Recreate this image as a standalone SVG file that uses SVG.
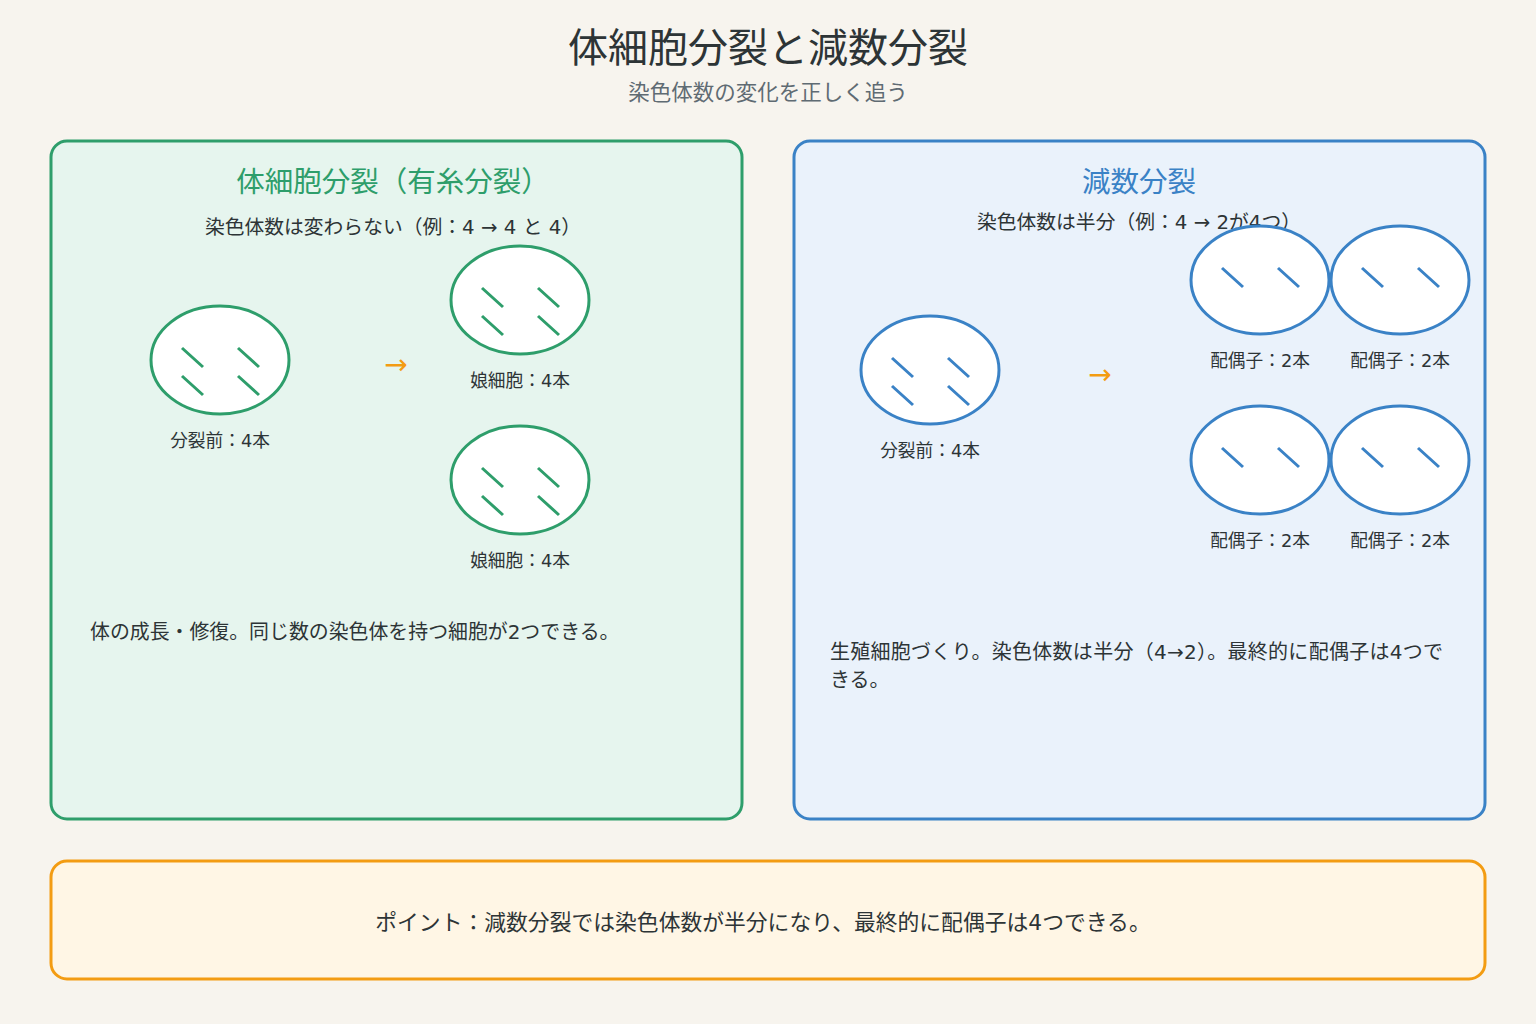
<svg xmlns="http://www.w3.org/2000/svg" width="1536" height="1024" viewBox="0 0 1536 1024">
<style>
text{font-family:"DejaVu Sans","Noto Sans CJK JP",sans-serif;fill:#2d3436}
.g{fill:#fff;stroke:#2e9e6b;stroke-width:3}
.b{fill:#fff;stroke:#3a82c6;stroke-width:3}
.gl{stroke:#2e9e6b;stroke-width:3}
.bl{stroke:#3a82c6;stroke-width:3}
.lab{font-size:17.7px;text-anchor:middle}
.ar{font-size:28px;fill:#f39c12;text-anchor:middle}
</style>
<defs>
<g id="c4"><ellipse class="g" rx="69" ry="54"/><path class="gl" d="M-38-12l21 19M18-12l21 19M-38 16l21 19M18 16l21 19"/></g>
<g id="c4b"><ellipse class="b" rx="69" ry="54"/><path class="bl" d="M-38-12l21 19M18-12l21 19M-38 16l21 19M18 16l21 19"/></g>
<g id="c2"><ellipse class="b" rx="69" ry="54"/><path class="bl" d="M-38-12l21 19M18-12l21 19"/></g>
</defs>
<rect width="1536" height="1024" fill="#f7f4ee"/>
<text x="768" y="62" font-size="40" text-anchor="middle">体細胞分裂と減数分裂</text>
<text x="768" y="100" font-size="21.5" text-anchor="middle" style="fill:#5f6b73">染色体数の変化を正しく追う</text>
<g id="mitosis">
<rect x="51" y="141" width="691" height="678" rx="16" fill="#e6f5ee" stroke="#2e9e6b" stroke-width="3"/>
<text x="393" y="192" font-size="28.5" text-anchor="middle" style="fill:#2e9e6b">体細胞分裂（有糸分裂）</text>
<text x="393" y="234" font-size="19.8" text-anchor="middle">染色体数は変わらない（例：4 → 4 と 4）</text>
<use href="#c4" x="220" y="360"/><text class="lab" x="220" y="447">分裂前：4本</text>
<text class="ar" x="396" y="374">→</text>
<use href="#c4" x="520" y="300"/><text class="lab" x="520" y="387">娘細胞：4本</text>
<use href="#c4" x="520" y="480"/><text class="lab" x="520" y="567">娘細胞：4本</text>
<text x="90" y="639" font-size="19.9">体の成長・修復。同じ数の染色体を持つ細胞が2つできる。</text>
</g>
<g id="meiosis">
<rect x="794" y="141" width="691" height="678" rx="16" fill="#eaf2fb" stroke="#3a82c6" stroke-width="3"/>
<text x="1139" y="192" font-size="28.5" text-anchor="middle" style="fill:#3a82c6">減数分裂</text>
<text x="1139" y="229" font-size="19.8" text-anchor="middle">染色体数は半分（例：4 → 2が4つ）</text>
<use href="#c4b" x="930" y="370"/><text class="lab" x="930" y="457">分裂前：4本</text>
<text class="ar" x="1100" y="384">→</text>
<use href="#c2" x="1260" y="280"/><text class="lab" x="1260" y="367">配偶子：2本</text>
<use href="#c2" x="1400" y="280"/><text class="lab" x="1400" y="367">配偶子：2本</text>
<use href="#c2" x="1260" y="460"/><text class="lab" x="1260" y="547">配偶子：2本</text>
<use href="#c2" x="1400" y="460"/><text class="lab" x="1400" y="547">配偶子：2本</text>
<text x="830" y="659" font-size="20" textLength="613">生殖細胞づくり。染色体数は半分（4→2）。最終的に配偶子は4つで</text>
<text x="830" y="687" font-size="20">きる。</text>
</g>
<g id="point">
<rect x="51" y="861" width="1434" height="118" rx="16" fill="#fff6e5" stroke="#f39c12" stroke-width="3"/>
<text x="763" y="930" font-size="21.8" text-anchor="middle">ポイント：減数分裂では染色体数が半分になり、最終的に配偶子は4つできる。</text>
</g>
</svg>
